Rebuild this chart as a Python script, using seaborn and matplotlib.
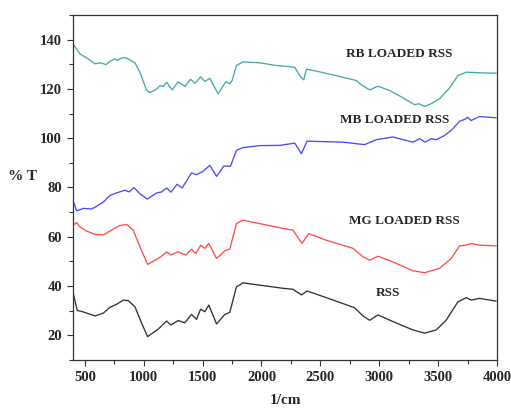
import matplotlib
matplotlib.use("Agg")
import matplotlib.pyplot as plt
import seaborn as sns
import pandas as pd
from matplotlib.ticker import MultipleLocator

# ---- data ----
rb_x = [400, 459, 516, 587, 629, 680, 714, 756, 776, 804, 849, 889, 926, 968, 1025, 1053, 1081, 1110,
        1138, 1166, 1195, 1242, 1293, 1350, 1398, 1435, 1485, 1519, 1562, 1632, 1697, 1731, 1751, 1788,
        1844, 1986, 2127, 2283, 2325, 2359, 2382, 2467, 2608, 2806, 2848, 2919, 2989, 3088, 3201, 3300,
        3337, 3385, 3442, 3512, 3597, 3668, 3739, 3879, 3993]
rb_y = [138.3, 134.2, 132.6, 130.2, 130.6, 129.9, 131.2, 132.2, 131.5, 132.4, 132.7, 131.5, 130.6, 126.8,
        119.4, 118.5, 119.1, 120.0, 121.3, 121.0, 122.7, 119.6, 122.9, 121.0, 123.9, 122.3, 124.9, 123.0,
        124.3, 118.0, 122.9, 122.1, 123.4, 129.5, 131.0, 130.6, 129.5, 128.8, 125.4, 123.7, 128.0, 127.2,
        125.7, 123.4, 121.7, 119.6, 121.1, 119.4, 116.4, 113.6, 114.0, 112.9, 114.0, 116.0, 120.4, 125.4,
        126.8, 126.5, 126.4]

mb_x = [400, 431, 487, 558, 601, 657, 714, 770, 841, 877, 917, 968, 1030, 1110, 1152, 1195, 1231, 1284,
        1327, 1406, 1449, 1505, 1562, 1619, 1680, 1737, 1788, 1844, 1986, 2155, 2283, 2339, 2387, 2692,
        2876, 2975, 3116, 3286, 3343, 3391, 3442, 3484, 3555, 3625, 3682, 3724, 3752, 3781, 3851, 3993]
mb_y = [74.8, 70.5, 71.5, 71.3, 72.4, 74.1, 76.8, 77.8, 78.9, 78.2, 80.0, 77.5, 75.3, 77.8, 78.2, 79.8,
        78.1, 81.3, 79.8, 85.9, 85.2, 86.6, 89.0, 84.5, 88.7, 88.6, 95.1, 96.2, 97.0, 97.1, 98.0, 93.7,
        98.8, 98.4, 97.4, 99.4, 100.5, 98.4, 99.8, 98.4, 99.8, 99.4, 101.1, 103.8, 106.9, 107.6, 108.5,
        107.2, 108.8, 108.3]

mg_x = [400, 431, 459, 516, 587, 657, 728, 799, 855, 911, 968, 1033, 1110, 1166, 1195, 1231, 1293, 1358,
        1406, 1443, 1485, 1519, 1553, 1619, 1689, 1731, 1788, 1844, 1980, 2183, 2268, 2344, 2401, 2551,
        2777, 2862, 2919, 2989, 3116, 3286, 3385, 3512, 3611, 3682, 3739, 3781, 3851, 3993]
mg_y = [64.7, 65.8, 64.0, 62.3, 61.0, 60.7, 62.7, 64.6, 65.0, 62.7, 56.0, 48.8, 50.8, 52.6, 53.9, 52.6,
        53.9, 52.6, 55.0, 53.2, 56.6, 55.3, 57.3, 51.2, 54.3, 55.0, 65.4, 66.7, 65.4, 63.4, 62.7, 57.3,
        61.3, 58.6, 55.3, 51.9, 50.5, 52.1, 49.8, 46.2, 45.4, 47.2, 51.2, 56.3, 56.6, 57.3, 56.6, 56.3]

rss_x = [400, 436, 474, 587, 657, 714, 770, 827, 869, 926, 983, 1033, 1123, 1195, 1231, 1293, 1350, 1406,
         1449, 1483, 1519, 1553, 1619, 1689, 1731, 1788, 1844, 1980, 2183, 2268, 2339, 2387, 2551, 2791,
         2862, 2919, 2989, 3116, 3286, 3385, 3484, 3569, 3668, 3739, 3781, 3851, 3993]
rss_y = [37.5, 30.1, 29.7, 27.9, 29.0, 31.4, 32.6, 34.3, 34.1, 31.6, 24.9, 19.5, 22.5, 25.8, 24.2, 26.0,
         25.1, 28.5, 26.5, 30.6, 29.6, 32.3, 24.6, 28.5, 29.3, 39.7, 41.3, 40.4, 39.1, 38.7, 36.4, 38.0,
         35.3, 31.2, 27.9, 26.1, 28.3, 25.6, 22.2, 20.9, 22.2, 26.2, 33.6, 35.3, 34.3, 35.0, 33.9]

series_names = ["RB LOADED RSS", "MB LOADED RSS", "MG LOADED RSS", "RSS"]
series_colors = ["#45aaa5", "#4a4aff", "#ff4d4d", "#333333"]
label_pos = [(3174, 134.3), (3132, 107.2), (3217, 66.3), (3072, 37.2)]

frames = []
for name, xs, ys in zip(series_names, [rb_x, mb_x, mg_x, rss_x], [rb_y, mb_y, mg_y, rss_y]):
    frames.append(pd.DataFrame({"wn": xs, "T": ys, "series": name, "order": range(len(xs))}))
df = pd.concat(frames, ignore_index=True)

sns.set_style("white")
plt.rcParams["font.family"] = ["Liberation Serif", "DejaVu Serif"]
plt.rcParams["font.weight"] = "bold"

fig = plt.figure(figsize=(5.11, 4.09), dpi=100)
ax = fig.add_axes([73 / 511, 1 - 360 / 409, 424 / 511, 345 / 409])

sns.lineplot(data=df, x="wn", y="T", hue="series", hue_order=series_names,
             palette=series_colors, sort=False, estimator=None, units="series",
             linewidth=0.95, legend=False, ax=ax)

for name, (lx, ly) in zip(series_names, label_pos):
    ax.text(lx, ly, name, ha="center", va="center", fontsize=9.5, fontweight="bold")

ax.set_xlim(400, 4000)
ax.set_ylim(10, 150)
ax.xaxis.set_major_locator(MultipleLocator(500))
ax.xaxis.set_minor_locator(MultipleLocator(250))
ax.yaxis.set_major_locator(MultipleLocator(20))
ax.yaxis.set_minor_locator(MultipleLocator(10))
ax.tick_params(axis="both", which="major", direction="out", length=4.5, width=0.8,
               labelsize=10.5, bottom=True, left=True, top=False, right=False, color="#333333")
ax.tick_params(axis="both", which="minor", direction="out", length=3, width=0.8,
               bottom=True, left=True, top=False, right=False, color="#333333")
for lab in ax.get_xticklabels() + ax.get_yticklabels():
    lab.set_fontweight("bold")
for s in ax.spines.values():
    s.set_color("#333333")
    s.set_linewidth(0.9)

ax.set_xlabel("1/cm", fontsize=11, fontweight="bold")
ax.set_ylabel("% T", fontsize=11, fontweight="bold", rotation=0)
ax.xaxis.set_label_coords(0.5, -0.099)
ax.yaxis.set_label_coords(-0.12, 0.513)
ax.xaxis.label.set_va("top")

fig.savefig("out.png", dpi=100)
